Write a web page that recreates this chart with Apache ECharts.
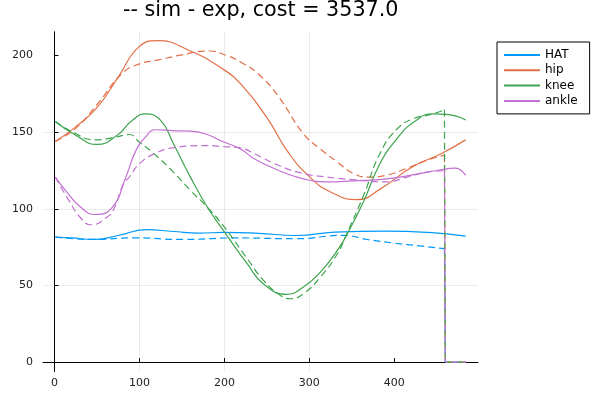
<!DOCTYPE html>
<html>
<head>
<meta charset="utf-8">
<script src="https://cdn.jsdelivr.net/npm/echarts@6/dist/echarts.min.js"></script>
<style>
  html, body { margin: 0; padding: 0; background: #fff; }
  #main { width: 600px; height: 400px; }
</style>
</head>
<body>
<div id="main"></div>
<script>
// simulated (solid): frames where each curve was read off, and its values
var hatSimF   = [1, 20, 46, 75, 108, 140, 170, 200, 240, 285, 330, 390, 440, 484];
var hatSim    = [81.6, 81, 80, 82.6, 86.4, 85.2, 84.2, 84.6, 84, 82.6, 84.8, 85.5, 84.6, 82.2];
var hipSimF   = [1, 25, 50, 75, 100, 121, 160, 195, 220, 250, 275, 300, 325, 356, 385, 420, 455, 484];
var hipSim    = [144, 153.5, 166, 186, 206, 209.8, 203, 192.4, 181, 159.5, 137, 121, 111, 106, 113.5, 127, 136, 145];
var kneeSimF  = [1, 25, 50, 75, 90, 107, 125, 140, 160, 180, 200, 227, 246, 273, 293, 313, 333, 345, 364, 383, 403, 423, 445, 462, 484];
var kneeSim   = [157, 148, 142, 148.5, 157, 162, 157.7, 142.5, 120.7, 101, 85, 64, 51, 44.2, 49, 58.7, 72.9, 84, 105, 129.4, 145.7, 156.6, 162, 161.6, 158];
var ankleSimF = [1, 13, 29, 48, 68, 84, 95, 107, 119, 139, 160, 180, 195, 219, 235, 264, 293, 321, 352, 391, 430, 450, 472, 484];
var ankleSim  = [120.7, 112, 102, 96.3, 101, 120.7, 137, 146.8, 151.6, 151, 150.7, 148.5, 144.6, 139, 132.7, 125, 119.6, 117.6, 118.3, 119.6, 123, 125, 126.5, 121.8];

// experimental (dashed), recorded up to frame 459
var hatExpF   = [1, 46, 93, 152, 211, 285, 340, 368, 400, 430, 459];
var hatExp    = [81.5, 80, 81.1, 80, 81, 80.5, 82.7, 80, 77.6, 75.8, 74];
var hipExpF   = [1, 25, 50, 80, 100, 121, 150, 180, 203, 220, 240, 264, 293, 313, 333, 352, 370, 391, 415, 438, 459];
var hipExp    = [144, 152.5, 168, 188.5, 194.6, 197, 200.5, 203, 200, 195.5, 188, 173, 149, 139, 130.5, 123, 120.7, 122, 126.5, 131.6, 135];
var kneeExpF  = [1, 20, 48, 72, 88, 100, 115, 140, 160, 180, 200, 227, 246, 266, 278, 293, 313, 333, 344, 364, 383, 403, 423, 442, 459];
var kneeExp   = [157, 150.5, 145, 146.8, 148.5, 143.5, 137, 124, 112, 101, 88, 67.4, 53.3, 43.5, 41.3, 44.6, 55.4, 70.7, 83.7, 109, 136, 152, 159, 161.4, 164.6];
var ankleExpF = [1, 17, 31, 43, 62, 70, 81, 88, 101, 119, 139, 180, 200, 219, 235, 264, 293, 321, 352, 391, 415, 438, 459];
var ankleExp  = [120.7, 105.5, 94, 89.6, 94.6, 100, 116, 120.7, 130, 136.3, 139.8, 141.3, 140.6, 139.8, 136, 128.3, 123, 120.7, 119, 117.6, 120.7, 124, 125];

// after the recording ends the exp data is zero
var zeroFrames = [460, 484];

var names = ['HAT', 'hip', 'knee', 'ankle'];
var colors = ['#009AFA', '#E36F47', '#3EA44E', '#C271D2'];
var xTicks = [0, 100, 200, 300, 400];
var yTicks = [0, 50, 100, 150, 200];

function pairs(xs, ys) {
    var out = [];
    for (var i = 0; i < ys.length; i++) out.push([xs[i], ys[i]]);
    return out;
}

var simF = [hatSimF, hipSimF, kneeSimF, ankleSimF];
var simData = [hatSim, hipSim, kneeSim, ankleSim];
var expF = [hatExpF, hipExpF, kneeExpF, ankleExpF];
var expData = [hatExp, hipExp, kneeExp, ankleExp];

var series = [];
for (var k = 0; k < names.length; k++) {
    series.push({
        name: names[k],
        type: 'line',
        data: pairs(simF[k], simData[k]),
        smooth: 0.5,
        showSymbol: false,
        symbolSize: 0,
        lineStyle: { color: colors[k], width: 1.2 },
        itemStyle: { color: colors[k], opacity: 0 }
    });
    series.push({
        name: names[k] + ' exp',
        type: 'line',
        data: pairs(expF[k], expData[k]),
        smooth: 0.5,
        symbol: 'none',
        lineStyle: { color: colors[k], width: 1.2, type: [7, 4] },
        itemStyle: { color: colors[k] }
    });
    var f = expF[k], e = expData[k];
    series.push({
        name: names[k] + ' exp',
        type: 'line',
        data: [[f[f.length - 1], e[e.length - 1]], [zeroFrames[0], 0], [zeroFrames[1], 0]],
        symbol: 'none',
        lineStyle: { color: colors[k], width: 1.2, type: [7, 4] },
        itemStyle: { color: colors[k] }
    });
}

var myChart = echarts.init(document.getElementById('main'));
var option = {
    animation: false,
    backgroundColor: '#fff',
    textStyle: { fontFamily: 'DejaVu Sans' },
    title: {
        text: '-- sim - exp, cost = 3537.0',
        left: 123,
        top: 0,
        padding: 0,
        textStyle: { fontSize: 20.7, fontWeight: 'normal', color: '#000', fontFamily: 'DejaVu Sans' }
    },
    legend: {
        data: names,
        orient: 'vertical',
        left: 497,
        top: 42,
        padding: [7, 12, 7, 6],
        itemWidth: 36,
        itemHeight: 10,
        itemGap: 3.3,
        itemStyle: { opacity: 0 },
        borderColor: '#000',
        borderWidth: 1,
        borderRadius: 0,
        backgroundColor: '#fff',
        textStyle: { fontSize: 12, color: '#000', fontFamily: 'DejaVu Sans' }
    },
    grid: { left: 43, right: 122, top: 31.7, bottom: 28.3 },
    xAxis: {
        type: 'value',
        min: -13.5,
        max: 498.5,
        axisLine: { lineStyle: { color: '#000', width: 1 } },
        axisTick: { inside: true, length: 4, customValues: xTicks, lineStyle: { color: '#000' } },
        axisLabel: { customValues: xTicks, fontSize: 11, color: '#222', margin: 6 },
        splitLine: { show: true, showMinLine: false, showMaxLine: false, lineStyle: { color: 'rgba(0,0,0,0.08)', width: 1 } }
    },
    yAxis: {
        type: 'value',
        min: -6.3,
        max: 215.6,
        axisLine: { show: true, lineStyle: { color: '#000', width: 1 } },
        axisTick: { show: true, inside: true, length: 4, customValues: yTicks, lineStyle: { color: '#000' } },
        axisLabel: { customValues: yTicks, fontSize: 11, color: '#222', margin: 10 },
        splitLine: { show: true, showMinLine: false, showMaxLine: false, lineStyle: { color: 'rgba(0,0,0,0.08)', width: 1 } }
    },
    series: series
};
myChart.setOption(option);
</script>
</body>
</html>
